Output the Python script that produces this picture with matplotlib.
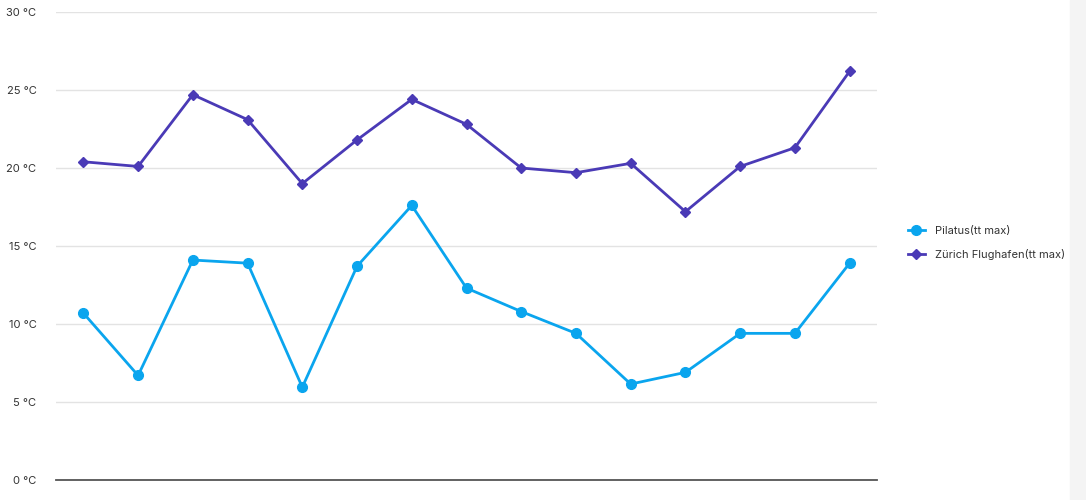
import numpy as np
import matplotlib.pyplot as plt
from matplotlib.patches import Rectangle

# readings per station (tt max)
pilatus = [10.7, 6.7, 14.1, 13.9, 5.95, 13.7, 17.6, 12.3, 10.8, 9.4,
           6.15, 6.9, 9.4, 9.4, 13.9]
zurich = [20.4, 20.1, 24.7, 23.1, 19.0, 21.8, 24.4, 22.8, 20.0, 19.7,
          20.3, 17.2, 20.1, 21.3, 26.2]
series_names = ['Pilatus(tt max)', 'Zürich Flughafen(tt max)']
y_ticks = [0, 5, 10, 15, 20, 25, 30]

PILATUS_COLOR = '#0aa5ee'
ZURICH_COLOR = '#4a3ab6'

plt.rcParams['font.family'] = ['Inter', 'DejaVu Sans']

fig = plt.figure(figsize=(10.86, 5.0), dpi=100)
ax = fig.add_axes([56 / 1086, 20 / 500, 821 / 1086, 468 / 500])

x = np.arange(len(pilatus))
ax.plot(x, pilatus, color=PILATUS_COLOR, lw=2, marker='o', ms=7,
        label=series_names[0], zorder=3)
ax.plot(x, zurich, color=ZURICH_COLOR, lw=2, marker='D', ms=5,
        label=series_names[1], zorder=3)

ax.set_xlim(-0.5, len(pilatus) - 0.5)
ax.set_ylim(0, 30)
ax.set_yticks(y_ticks)
ax.set_yticklabels([f'{t} °C' for t in y_ticks])
ax.set_xticks([])
ax.grid(axis='y', color='#e3e3e3', lw=1, zorder=0)
ax.tick_params(axis='y', length=0, pad=14, labelsize=8, labelcolor='#333333')
for side in ['top', 'right', 'left']:
    ax.spines[side].set_visible(False)
ax.spines['bottom'].set_color('#555555')
ax.spines['bottom'].set_linewidth(1.3)
ax.spines['bottom'].set_zorder(4)

leg = ax.legend(loc='center left', bbox_to_anchor=(1.025, 0.506),
                frameon=False, fontsize=8, handlelength=1.6,
                handletextpad=0.9, labelspacing=1.2, labelcolor='#333333')

# scrollbar strip on the right edge
fig.patches.append(Rectangle((1070 / 1086, 0), 16 / 1086, 1,
                             transform=fig.transFigure, color='#f4f4f4',
                             zorder=0))

fig.savefig('out.png', dpi=100)
